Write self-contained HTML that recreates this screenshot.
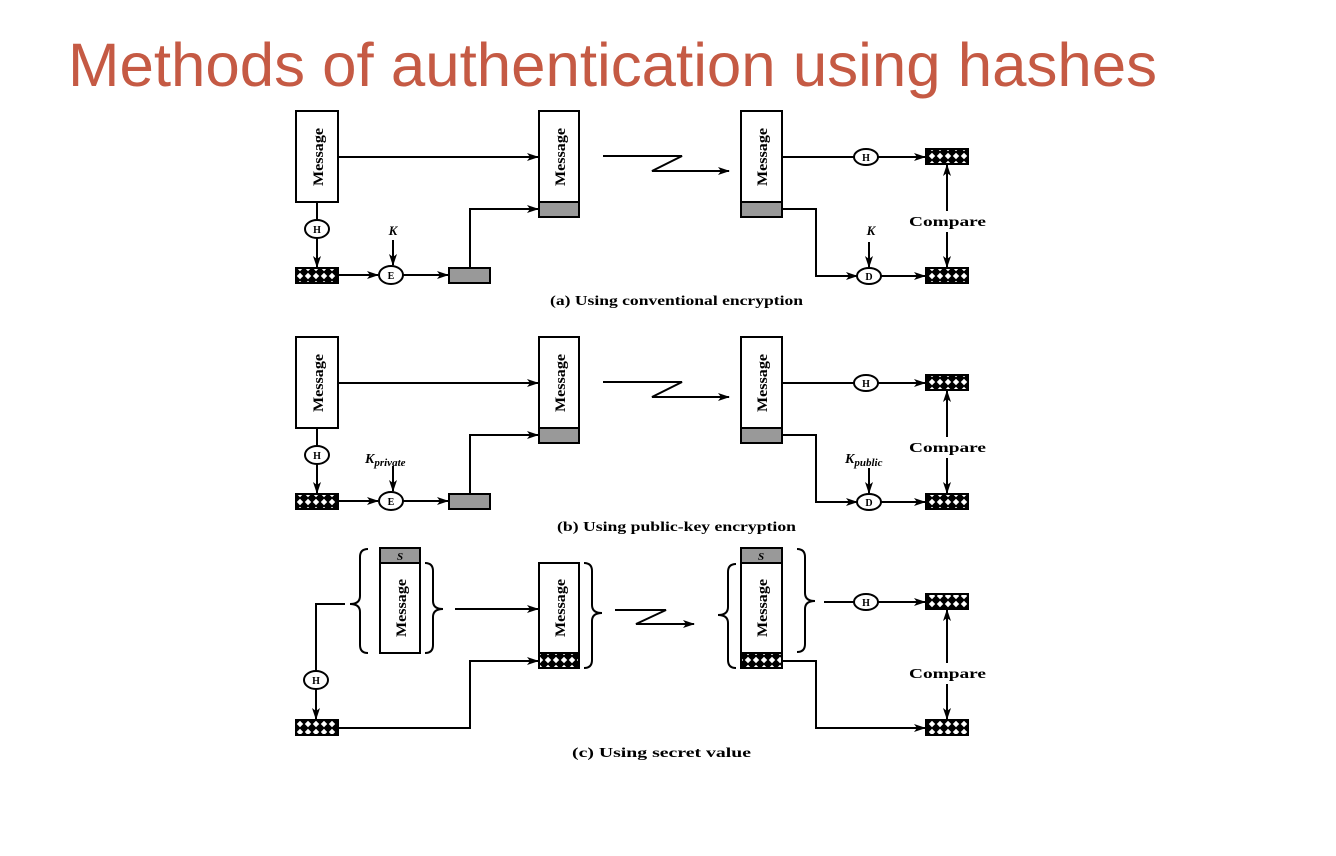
<!DOCTYPE html>
<html><head><meta charset="utf-8"><style>
html,body{margin:0;padding:0;background:#fff;width:1336px;height:856px;overflow:hidden}
svg{display:block}
.t{font-family:"Liberation Serif",serif;font-weight:bold;fill:#000}
</style></head><body>
<svg width="1336" height="856" viewBox="0 0 1336 856" xmlns="http://www.w3.org/2000/svg">
<defs>
<pattern id="hp" width="8" height="8" patternUnits="userSpaceOnUse" x="0" y="0">
<rect width="8" height="8" fill="#000"/>
<path d="M4 0.8 L7.2 4 L4 7.2 L0.8 4Z" fill="#fff"/>
</pattern>
<marker id="ar" markerWidth="12" markerHeight="8" refX="11" refY="4" orient="auto" markerUnits="userSpaceOnUse">
<path d="M0 0 L12 4 L0 8 L3 4Z" fill="#000"/>
</marker>
<g id="pa" stroke="#000" stroke-width="2" fill="none">
<rect x="296" y="111" width="42" height="91" fill="#fff"/>
<line x1="317" y1="202" x2="317" y2="220"/>
<ellipse cx="317" cy="229" rx="12" ry="9" fill="#fff"/>
<line x1="317" y1="238" x2="317" y2="267" marker-end="url(#ar)"/>
<rect x="296" y="268" width="42" height="15" fill="url(#hp)"/>
<line x1="338" y1="275" x2="378" y2="275" marker-end="url(#ar)"/>
<ellipse cx="391" cy="275" rx="12" ry="9" fill="#fff"/>
<line x1="393" y1="240" x2="393" y2="265" marker-end="url(#ar)"/>
<line x1="403" y1="275" x2="448" y2="275" marker-end="url(#ar)"/>
<rect x="449" y="268" width="41" height="15" fill="#999"/>
<polyline points="470,268 470,209 538,209" marker-end="url(#ar)"/>
<line x1="338" y1="157" x2="538" y2="157" marker-end="url(#ar)"/>
<rect x="539" y="111" width="40" height="91" fill="#fff"/>
<rect x="539" y="202" width="40" height="15" fill="#999"/>
<polyline points="603,156 682,156 652,171 729,171" marker-end="url(#ar)"/>
<rect x="741" y="111" width="41" height="91" fill="#fff"/>
<rect x="741" y="202" width="41" height="15" fill="#999"/>
<line x1="782" y1="157" x2="854" y2="157"/>
<ellipse cx="866" cy="157" rx="12" ry="8" fill="#fff"/>
<line x1="878" y1="157" x2="925" y2="157" marker-end="url(#ar)"/>
<rect x="926" y="149" width="42" height="15" fill="url(#hp)"/>
<polyline points="782,209 816,209 816,276 857,276" marker-end="url(#ar)"/>
<ellipse cx="869" cy="276" rx="12" ry="8" fill="#fff"/>
<line x1="869" y1="242" x2="869" y2="267" marker-end="url(#ar)"/>
<line x1="881" y1="276" x2="925" y2="276" marker-end="url(#ar)"/>
<rect x="926" y="268" width="42" height="15" fill="url(#hp)"/>
<line x1="947" y1="211" x2="947" y2="165" marker-end="url(#ar)"/>
<line x1="947" y1="232" x2="947" y2="267" marker-end="url(#ar)"/>
</g>
</defs>

<text x="68" y="86" font-family="'Liberation Sans',sans-serif" font-size="61" fill="#c55a44" textLength="1089" lengthAdjust="spacingAndGlyphs">Methods of authentication using hashes</text>

<use href="#pa"/>
<use href="#pa" transform="translate(0,226)"/>

<g class="t" font-size="13">
<text transform="translate(323,157) rotate(-90)" text-anchor="middle" font-size="15" textLength="58" lengthAdjust="spacingAndGlyphs">Message</text>
<text transform="translate(565,157) rotate(-90)" text-anchor="middle" font-size="15" textLength="58" lengthAdjust="spacingAndGlyphs">Message</text>
<text transform="translate(767,157) rotate(-90)" text-anchor="middle" font-size="15" textLength="58" lengthAdjust="spacingAndGlyphs">Message</text>
<text x="317" y="233" text-anchor="middle" font-size="10">H</text>
<text x="391" y="279" text-anchor="middle" font-size="10">E</text>
<text x="866" y="161" text-anchor="middle" font-size="10">H</text>
<text x="869" y="280" text-anchor="middle" font-size="10">D</text>
<text x="393" y="235" text-anchor="middle" font-style="italic">K</text>
<text x="871" y="235" text-anchor="middle" font-style="italic">K</text>
<text x="909" y="226" textLength="77" lengthAdjust="spacingAndGlyphs" font-size="14">Compare</text>
<text x="550" y="305" textLength="253" lengthAdjust="spacingAndGlyphs" font-size="14">(a) Using conventional encryption</text>
</g>
<g class="t" font-size="13">
<text transform="translate(323,383) rotate(-90)" text-anchor="middle" font-size="15" textLength="58" lengthAdjust="spacingAndGlyphs">Message</text>
<text transform="translate(565,383) rotate(-90)" text-anchor="middle" font-size="15" textLength="58" lengthAdjust="spacingAndGlyphs">Message</text>
<text transform="translate(767,383) rotate(-90)" text-anchor="middle" font-size="15" textLength="58" lengthAdjust="spacingAndGlyphs">Message</text>
<text x="317" y="459" text-anchor="middle" font-size="10">H</text>
<text x="391" y="505" text-anchor="middle" font-size="10">E</text>
<text x="866" y="387" text-anchor="middle" font-size="10">H</text>
<text x="869" y="506" text-anchor="middle" font-size="10">D</text>
<text x="365" y="463" font-style="italic" font-size="14">K<tspan font-size="11" dy="3">private</tspan></text>
<text x="845" y="463" font-style="italic" font-size="14">K<tspan font-size="11" dy="3">public</tspan></text>
<text x="909" y="452" textLength="77" lengthAdjust="spacingAndGlyphs" font-size="14">Compare</text>
<text x="557" y="531" textLength="239" lengthAdjust="spacingAndGlyphs" font-size="14">(b) Using public-key encryption</text>
</g>

<g stroke="#000" stroke-width="2" fill="none">
<rect x="380" y="548" width="40" height="15" fill="#999"/>
<rect x="380" y="563" width="40" height="90" fill="#fff"/>
<path d="M368 549 q-8 0 -8 8 L360 596 q0 8 -10 8 q10 0 10 8 L360 645 q0 8 8 8"/>
<path d="M425 563 q8 0 8 8 L433 601 q0 8 10 8 q-10 0 -10 8 L433 645 q0 8 -8 8"/>
<polyline points="345,604 316,604 316,671"/>
<ellipse cx="316" cy="680" rx="12" ry="9" fill="#fff"/>
<line x1="316" y1="689" x2="316" y2="719" marker-end="url(#ar)"/>
<rect x="296" y="720" width="42" height="15" fill="url(#hp)"/>
<polyline points="338,728 470,728 470,661 538,661" marker-end="url(#ar)"/>
<line x1="455" y1="609" x2="538" y2="609" marker-end="url(#ar)"/>
<rect x="539" y="563" width="40" height="90" fill="#fff"/>
<rect x="539" y="653" width="40" height="15" fill="url(#hp)"/>
<path d="M584 563 q8 0 8 8 L592 605 q0 8 10 8 q-10 0 -10 8 L592 660 q0 8 -8 8"/>
<polyline points="615,610 666,610 636,624 694,624" marker-end="url(#ar)"/>
<rect x="741" y="548" width="41" height="15" fill="#999"/>
<rect x="741" y="563" width="41" height="90" fill="#fff"/>
<rect x="741" y="653" width="41" height="15" fill="url(#hp)"/>
<path d="M736 564 q-8 0 -8 8 L728 607 q0 8 -10 8 q10 0 10 8 L728 660 q0 8 8 8"/>
<path d="M797 549 q8 0 8 8 L805 593 q0 8 10 8 q-10 0 -10 8 L805 644 q0 8 -8 8"/>
<line x1="824" y1="602" x2="854" y2="602"/>
<ellipse cx="866" cy="602" rx="12" ry="8" fill="#fff"/>
<line x1="878" y1="602" x2="925" y2="602" marker-end="url(#ar)"/>
<rect x="926" y="594" width="42" height="15" fill="url(#hp)"/>
<polyline points="782,661 816,661 816,728 925,728" marker-end="url(#ar)"/>
<rect x="926" y="720" width="42" height="15" fill="url(#hp)"/>
<line x1="947" y1="663" x2="947" y2="610" marker-end="url(#ar)"/>
<line x1="947" y1="684" x2="947" y2="719" marker-end="url(#ar)"/>
</g>
<g class="t" font-size="13">
<text transform="translate(406,608) rotate(-90)" text-anchor="middle" font-size="15" textLength="58" lengthAdjust="spacingAndGlyphs">Message</text>
<text transform="translate(565,608) rotate(-90)" text-anchor="middle" font-size="15" textLength="58" lengthAdjust="spacingAndGlyphs">Message</text>
<text transform="translate(767,608) rotate(-90)" text-anchor="middle" font-size="15" textLength="58" lengthAdjust="spacingAndGlyphs">Message</text>
<text x="400" y="560" text-anchor="middle" font-style="italic" font-size="11">S</text>
<text x="761" y="560" text-anchor="middle" font-style="italic" font-size="11">S</text>
<text x="316" y="684" text-anchor="middle" font-size="10">H</text>
<text x="866" y="606" text-anchor="middle" font-size="10">H</text>
<text x="909" y="678" textLength="77" lengthAdjust="spacingAndGlyphs" font-size="14">Compare</text>
<text x="572" y="757" textLength="179" lengthAdjust="spacingAndGlyphs" font-size="14">(c) Using secret value</text>
</g>
</svg>
</body></html>
